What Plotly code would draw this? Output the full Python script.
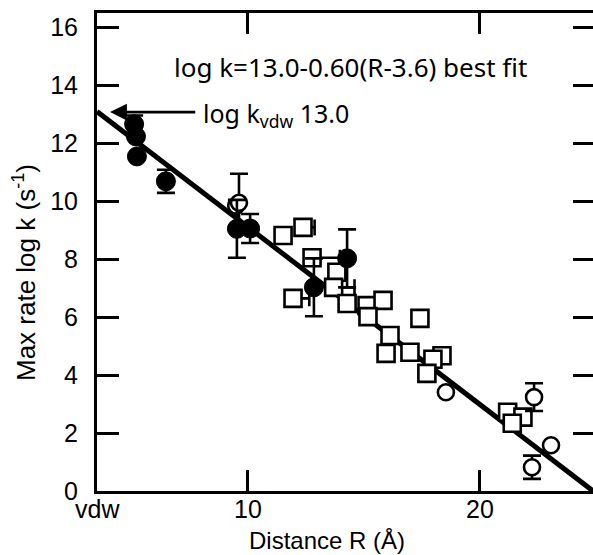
import plotly.graph_objects as go

# ---- data ----
filled_R = [5.10, 5.18, 5.22, 6.47, 9.53, 10.10, 12.85, 14.28]
filled_logk = [12.66, 12.24, 11.55, 10.69, 9.05, 9.06, 7.03, 8.03]
filled_err = [0.3, 0.0, 0.0, 0.4, 1.0, 0.5, 1.0, 1.0]

open_R = [9.50, 9.62, 18.54, 22.34, 23.07, 22.25]
open_logk = [9.85, 9.95, 3.41, 3.24, 1.58, 0.82]
open_err = [0.0, 1.0, 0.0, 0.48, 0.0, 0.40]

square_R = [11.52, 12.38, 12.77, 13.84, 11.95, 13.70, 14.28, 15.14, 15.83, 15.18,
            17.42, 16.13, 15.96, 16.99, 18.37, 17.98, 17.72, 21.20, 21.86, 21.40]
square_logk = [8.82, 9.10, 8.05, 7.55, 6.65, 7.03, 6.47, 6.40, 6.58, 6.02,
               5.96, 5.37, 4.75, 4.79, 4.67, 4.55, 4.06, 2.72, 2.55, 2.34]
square_errx_plus = [0.0, 0.5, 1.2, 0.0, 0.7, 0.9, 0.0, 0.0, 0.0, 0.0,
                    0.0, 0.0, 0.0, 0.0, 0.0, 0.0, 0.0, 0.0, 0.0, 0.0]

fit_R = [3.5, 24.88]
fit_logk = [13.1, 0.0]

x_tickvals = [3.5, 10, 20]
x_ticktext = ["vdw", "10", "20"]
y_tickvals = [0, 2, 4, 6, 8, 10, 12, 14, 16]

X_RANGE = [3.5, 24.88]
Y_RANGE = [0, 16.5]

tick_font = dict(family="Liberation Sans, Arial, sans-serif", size=25, color="black")
xtitle_font = dict(family="Liberation Sans, Arial, sans-serif", size=24, color="black")
ytitle_font = dict(family="Liberation Sans, Arial, sans-serif", size=26, color="black")
note_font1 = dict(family="Noto Sans, Open Sans, sans-serif", size=26, color="black")
note_font2 = dict(family="Noto Sans, Open Sans, sans-serif", size=25, color="black")

fig = go.Figure()

fig.add_trace(go.Scatter(
    x=fit_R, y=fit_logk, mode="lines",
    line=dict(color="black", width=5), showlegend=False, hoverinfo="skip"))

fig.add_trace(go.Scatter(
    x=square_R, y=square_logk, mode="markers",
    marker=dict(symbol="square", size=17, color="white", line=dict(width=2.6, color="black")),
    error_x=dict(type="data", array=square_errx_plus, arrayminus=[0]*len(square_R),
                 color="black", thickness=2.6, width=8),
    showlegend=False))

fig.add_trace(go.Scatter(
    x=open_R, y=open_logk, mode="markers",
    marker=dict(symbol="circle", size=16, color="white", line=dict(width=2.6, color="black")),
    error_y=dict(type="data", array=open_err, color="black", thickness=2.6, width=9),
    showlegend=False))

fig.add_trace(go.Scatter(
    x=filled_R, y=filled_logk, mode="markers",
    marker=dict(symbol="circle", size=19, color="black", line=dict(width=1, color="black")),
    error_y=dict(type="data", array=filled_err, color="black", thickness=2.6, width=9),
    showlegend=False))

# dummy trace for the right-side tick axis
fig.add_trace(go.Scatter(x=[None], y=[None], yaxis="y2", showlegend=False, hoverinfo="skip"))

# x tick labels (placed as text under the axis)
for tv, tt in zip(x_tickvals, x_ticktext):
    fig.add_annotation(x=tv, y=0, xref="x", yref="paper", yshift=-18,
                       xanchor="center", yanchor="middle", text=tt,
                       showarrow=False, font=tick_font)

# arrow pointing to log k_vdw
fig.add_annotation(x=4.06, y=13.08, ax=7.8, ay=13.08, xref="x", yref="y", axref="x", ayref="y",
                   text="", showarrow=True, arrowhead=2, arrowsize=1.3, arrowwidth=2.6,
                   arrowcolor="black")

fig.add_annotation(x=8.0, y=13.0, xref="x", yref="y", xanchor="left", yanchor="middle",
                   text="log k<sub>vdw</sub> 13.0", showarrow=False, font=note_font2)
fig.add_annotation(x=6.75, y=14.63, xref="x", yref="y", xanchor="left", yanchor="middle",
                   text="log k=13.0-0.60(R-3.6) best fit", showarrow=False, font=note_font1)

# axis titles
fig.add_annotation(x=0.464, y=0, xref="paper", yref="paper", yshift=-49,
                   xanchor="center", yanchor="middle", text="Distance R (Å)",
                   showarrow=False, font=xtitle_font)
fig.add_annotation(x=0, y=0.456, xref="paper", yref="paper", xshift=-73,
                   xanchor="center", yanchor="middle", textangle=-90,
                   text="Max rate log k (s<sup>-1</sup>)", showarrow=False, font=ytitle_font)

fig.update_layout(
    width=593, height=555,
    margin=dict(l=97, r=0, t=13, b=64),
    paper_bgcolor="white", plot_bgcolor="white",
    xaxis=dict(range=X_RANGE, tickvals=x_tickvals, showticklabels=False,
               ticks="inside", ticklen=21, tickwidth=3, tickcolor="black",
               showline=True, linewidth=3, linecolor="black", mirror="ticks",
               showgrid=False, zeroline=False),
    yaxis=dict(range=Y_RANGE, tickvals=y_tickvals,
               ticks="inside", ticklen=22, tickwidth=3, tickcolor="black",
               showline=True, linewidth=3, linecolor="black",
               showgrid=False, zeroline=False, tickfont=tick_font, ticklabelstandoff=11),
    yaxis2=dict(range=Y_RANGE, tickvals=y_tickvals, overlaying="y", side="right",
                ticks="inside", ticklen=20, tickwidth=3, tickcolor="black",
                showline=False, showgrid=False, zeroline=False, showticklabels=False),
)

fig.write_html("out.html", config={"displayModeBar": False},
               post_script="document.body.style.margin='0';")
